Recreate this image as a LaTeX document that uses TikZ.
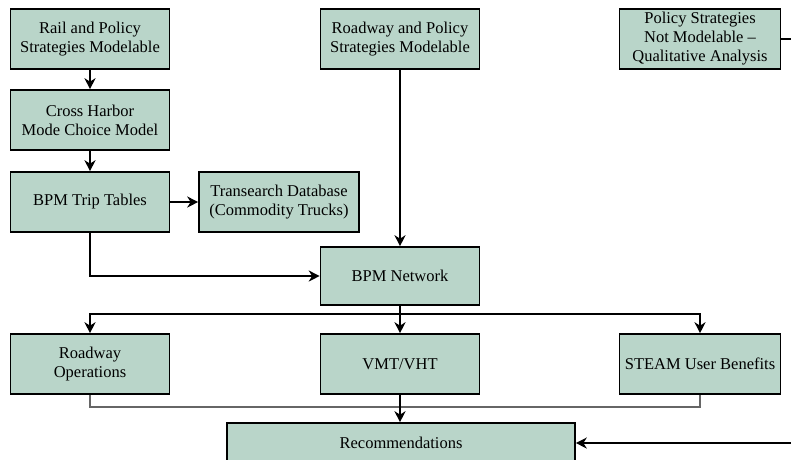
\documentclass[tikz,border=0pt]{standalone}
\usepackage{fontspec}
\setmainfont{Liberation Serif}
\usetikzlibrary{arrows.meta}
\definecolor{boxfill}{HTML}{B9D5C9}
\tikzset{
  box/.style={draw=black, fill=boxfill, line width=1.6pt, minimum width=159pt, minimum height=60pt,
    inner sep=0pt, align=center, font=\fontsize{16.5}{19}\selectfont},
  conn/.style={line width=1.8pt, -{Stealth[length=11pt,width=11pt,inset=3.5pt]}},
  plain/.style={line width=1.8pt},
  thin/.style={line width=1.1pt, draw=black!60}
}
\begin{document}
\begin{tikzpicture}[x=1pt,y=-1pt]
\useasboundingbox (0,0) rectangle (791,459);
\clip (0,0) rectangle (791,459);
\node[box] (rail) at (90,39) {Rail and Policy\\Strategies Modelable};
\node[box] (cross) at (90,120) {Cross Harbor\\Mode Choice Model};
\node[box] (trip) at (90,202) {BPM Trip Tables};
\node[box, minimum width=160pt] (trans) at (279,202) {Transearch Database\\(Commodity Trucks)};
\node[box] (road) at (400,39) {Roadway and Policy\\Strategies Modelable};
\node[box, minimum width=161pt] (pol) at (700,39) {Policy Strategies\\Not Modelable --\\Qualitative Analysis};
\node[box, minimum height=58pt] (net) at (400,276) {BPM Network};
\node[box] (ops) at (90,364) {Roadway\\Operations};
\node[box] (vmt) at (400,364) {VMT/VHT};
\node[box, minimum width=161pt] (steam) at (700,364) {STEAM User Benefits};
\node[box, minimum width=348pt, minimum height=40pt] (rec) at (401,443) {Recommendations};
\coordinate (split) at (400,314);
\coordinate (join) at (400,407);
\coordinate (out) at (796,39);
\draw[conn] (rail) -- (cross);
\draw[conn] (cross) -- (trip);
\draw[conn] (trip) -- (trans);
\draw[conn] (trip.south) |- (net.west);
\draw[conn] (road) -- (net);
\draw[plain] (net.south) -- (split);
\draw[conn] (split) -| (ops.north);
\draw[conn] (split) -- (vmt.north);
\draw[conn] (split) -| (steam.north);
\draw[thin] (ops.south) |- (join) -| (steam.south);
\draw[conn] (vmt.south) -- (vmt.south |- rec.north);
\draw[conn] (pol.east) -- (out) |- (rec.east);
\end{tikzpicture}
\end{document}
